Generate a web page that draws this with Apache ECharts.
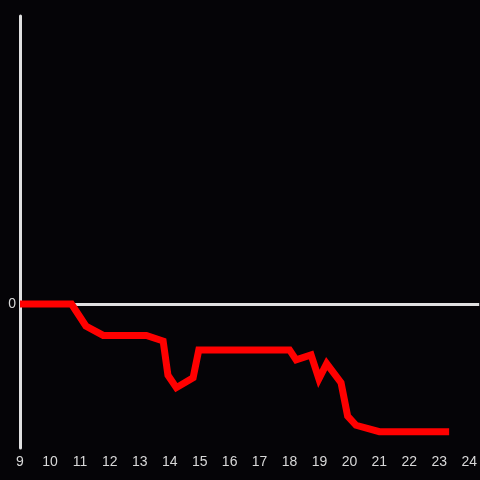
<!DOCTYPE html>
<html>
<head>
<meta charset="utf-8">
<script src="https://cdn.jsdelivr.net/npm/echarts@6/dist/echarts.min.js"></script>
<style>
  html, body { margin: 0; padding: 0; background: #050407; }
  #main { width: 480px; height: 480px; }
</style>
</head>
<body>
<div id="main"></div>
<script>
// x positions (hours) and values
const xValues = [9, 10.72, 11.2, 11.78, 13.22, 13.78, 13.94, 14.22, 14.78, 14.97,
  18.0, 18.22, 18.72, 18.98, 19.24, 19.72, 19.94, 20.22, 21.0, 23.33];
const yValues = [0, 0, -0.153, -0.218, -0.218, -0.257, -0.495, -0.581, -0.512, -0.319,
  -0.319, -0.388, -0.354, -0.52, -0.414, -0.547, -0.778, -0.842, -0.887, -0.887];
const yTickLabels = ['0'];

const myChart = echarts.init(document.getElementById('main'));

const option = {
  backgroundColor: '#050407',
  animation: false,
  grid: { left: 20, right: 0, top: 16, bottom: 32 },
  xAxis: {
    type: 'value',
    min: 9,
    max: 9 + 460 / 30,
    interval: 1,
    axisLine: { show: false },
    axisTick: { show: false },
    splitLine: { show: false },
    axisLabel: {
      color: '#d8d8d8',
      fontSize: 14,
      margin: 7,
      showMaxLabel: false,
      formatter: (v) => (Number.isInteger(v) ? String(v) : '')
    }
  },
  yAxis: {
    type: 'value',
    min: -1,
    max: 2,
    interval: 1,
    axisLine: { show: true, lineStyle: { color: '#e0e0e0', width: 3 } },
    axisTick: { show: false },
    splitLine: { show: false },
    axisLabel: {
      color: '#d8d8d8',
      fontSize: 14,
      margin: 4,
      formatter: (v) => (yTickLabels.includes(String(v)) ? String(v) : '')
    }
  },
  series: [
    {
      type: 'line',
      data: xValues.map((x, i) => [x, yValues[i]]),
      symbol: 'none',
      lineStyle: { color: '#ff0000', width: 7, cap: 'butt', join: 'miter' },
      z: 3,
      markLine: {
        silent: true,
        symbol: 'none',
        label: { show: false },
        lineStyle: { color: '#e0e0e0', width: 3, type: 'solid' },
        data: [{ yAxis: 0 }],
        z: 1
      }
    }
  ]
};

myChart.setOption(option);
</script>
</body>
</html>
